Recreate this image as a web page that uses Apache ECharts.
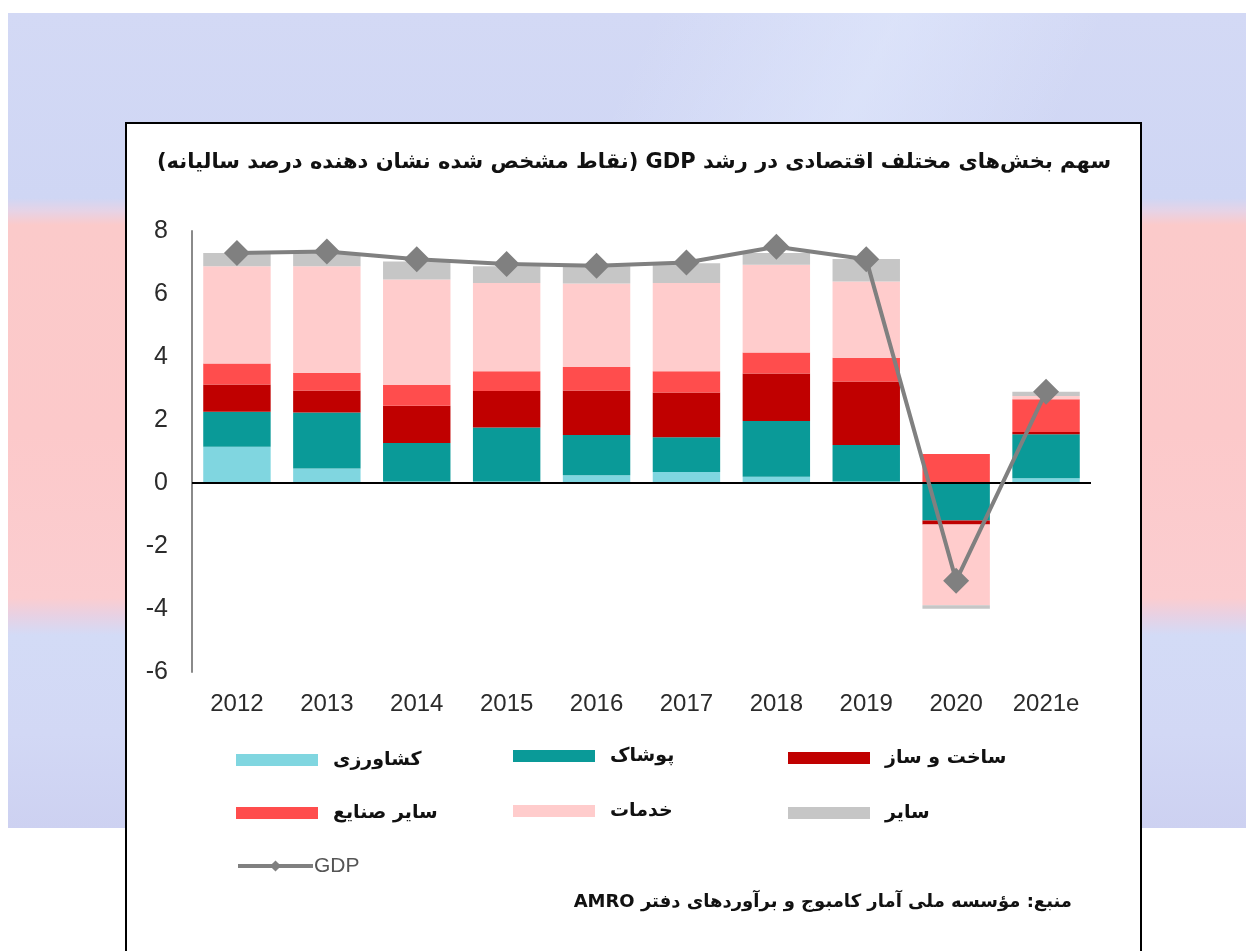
<!DOCTYPE html>
<html>
<head>
<meta charset="utf-8">
<title>سهم بخش‌ها در رشد GDP</title>
<script src="https://cdn.jsdelivr.net/npm/echarts@6/dist/echarts.min.js"></script>
<style>
  html, body {
    margin: 0;
    padding: 0;
    width: 1246px;
    height: 951px;
    background: #fff;
    overflow: hidden;
    position: relative;
  }
  /* faded flag photo behind the card */
  .flag {
    position: absolute;
    left: 8px;
    top: 13px;
    width: 1238px;
    height: 815px;
    background:
      linear-gradient(115deg, rgba(255,255,255,0) 40%, rgba(230,238,255,0.45) 55%, rgba(255,255,255,0) 68%),
      linear-gradient(to bottom,
        #d3d9f5 0px, #cfd6f4 185px, #e6d3e6 198px, #fbcaca 212px,
        #fcc9ca 420px, #fbcdd0 585px, #e7d1e4 603px, #d3dbf6 622px,
        #d2d8f5 720px, #cdd1f1 815px);
  }
  .card {
    position: absolute;
    left: 125px;
    top: 122px;
    width: 1017px;
    height: 840px;
    box-sizing: border-box;
    background: #fff;
    border: 2px solid #000;
  }
  #chart {
    position: absolute;
    left: 0;
    top: 0;
    width: 1246px;
    height: 951px;
  }
</style>
</head>
<body>
<div class="flag"></div>
<div class="card"></div>
<div id="chart"></div>
<script>
// سال‌ها
const years = ['2012', '2013', '2014', '2015', '2016', '2017', '2018', '2019', '2020', '2021e'];

// سهم هر بخش (واحد درصد)
const agriculture   = [1.15, 0.46, 0.05, 0.05, 0.25, 0.35, 0.20, 0.05, 0, 0.15];
const garment       = [1.11, 1.78, 1.22, 1.71, 1.27, 1.10, 1.77, 1.16, -1.19, 1.40];
const construction  = [0.87, 0.70, 1.18, 1.16, 1.42, 1.42, 1.51, 2.01, -0.13, 0.07];
const otherIndustry = [0.66, 0.56, 0.66, 0.63, 0.74, 0.68, 0.66, 0.76, 0.92, 1.04];
const services      = [3.09, 3.38, 3.35, 2.80, 2.65, 2.80, 2.79, 2.42, -2.56, 0.10];
const other         = [0.42, 0.42, 0.57, 0.53, 0.55, 0.63, 0.37, 0.71, -0.11, 0.14];
const gdp           = [7.3, 7.35, 7.1, 6.95, 6.9, 7.0, 7.5, 7.1, -3.1, 2.9];

const yTicks = { min: -6, max: 8, interval: 2 };

const titleText = 'سهم بخش‌های مختلف اقتصادی در رشد GDP (نقاط مشخص شده نشان دهنده درصد سالیانه)';
const sourceText = 'منبع: مؤسسه ملی آمار کامبوج و برآوردهای دفتر AMRO';

const NAMES = {
  agri: 'کشاورزی',
  garment: 'پوشاک',
  constr: 'ساخت و ساز',
  othInd: 'سایر صنایع',
  services: 'خدمات',
  other: 'سایر'
};

const COLORS = {
  agri: '#80d6e0',
  garment: '#0a9a98',
  constr: '#c00000',
  othInd: '#ff4d4d',
  services: '#ffcccc',
  other: '#c6c6c6',
  gdp: '#808080'
};

// embed rtl run inside the ltr canvas
const rtl = (s) => '\u202B' + s + '\u202C';

const legendText = {
  fontFamily: 'DejaVu Sans',
  fontWeight: 'bold',
  fontSize: 19,
  lineHeight: 24,
  color: '#111',
  padding: [0, 0, 0, 10]
};

function barLegend(name, left, top) {
  return {
    data: [name],
    left: left,
    top: top,
    padding: 0,
    icon: 'rect',
    itemWidth: 82,
    itemHeight: 12,
    selectedMode: false,
    textStyle: legendText
  };
}

function barSeries(key, data, extra) {
  return Object.assign({
    name: NAMES[key],
    type: 'bar',
    stack: 'total',
    barWidth: '75%',
    data: data,
    itemStyle: { color: COLORS[key] },
    emphasis: { disabled: true }
  }, extra || {});
}

const chart = echarts.init(document.getElementById('chart'), null, { renderer: 'canvas' });

const option = {
  backgroundColor: 'transparent',
  animation: false,
  grid: { left: 192, top: 231, width: 899, height: 441 },
  legend: [
    barLegend(NAMES.agri, 236, 748),
    barLegend(NAMES.garment, 513, 744),
    barLegend(NAMES.constr, 788, 746),
    barLegend(NAMES.othInd, 236, 801),
    barLegend(NAMES.services, 513, 799),
    barLegend(NAMES.other, 788, 801),
    {
      data: ['GDP'],
      left: 236,
      top: 854,
      padding: 0,
      itemWidth: 75,
      itemHeight: 14,
      selectedMode: false,
      lineStyle: { width: 4, color: COLORS.gdp },
      textStyle: { fontFamily: 'Liberation Sans', fontSize: 21, lineHeight: 24, color: '#555', padding: [0, 0, 0, -4] }
    }
  ],
  xAxis: {
    type: 'category',
    data: years,
    axisLine: { show: false, onZero: false },
    axisTick: { show: false },
    axisLabel: {
      interval: 0,
      margin: 20,
      fontFamily: 'Liberation Sans',
      fontSize: 24,
      color: '#2b2b2b'
    }
  },
  yAxis: {
    type: 'value',
    min: yTicks.min,
    max: yTicks.max,
    interval: yTicks.interval,
    axisLine: { show: true, lineStyle: { color: '#8a8a8a', width: 2 } },
    axisTick: { show: false },
    splitLine: { show: false },
    axisLabel: {
      margin: 24,
      fontFamily: 'Liberation Sans',
      fontSize: 25,
      color: '#2b2b2b'
    }
  },
  series: [
    barSeries('agri', agriculture),
    barSeries('garment', garment),
    barSeries('constr', construction),
    barSeries('othInd', otherIndustry),
    barSeries('services', services),
    barSeries('other', other, {
      markLine: {
        silent: true,
        symbol: 'none',
        label: { show: false },
        lineStyle: { color: '#000', width: 2, type: 'solid' },
        data: [{ yAxis: 0 }]
      }
    }),
    {
      name: 'GDP',
      type: 'line',
      data: gdp,
      z: 5,
      symbol: 'diamond',
      symbolSize: 26,
      lineStyle: { color: COLORS.gdp, width: 4 },
      itemStyle: { color: COLORS.gdp },
      emphasis: { disabled: true }
    }
  ],
  graphic: [
    {
      type: 'text',
      x: 634,
      y: 163,
      style: {
        text: rtl(titleText),
        fill: '#111',
        font: 'bold 21px "DejaVu Sans"',
        textAlign: 'center',
        textVerticalAlign: 'middle'
      }
    },
    {
      type: 'text',
      x: 1072,
      y: 902,
      style: {
        text: rtl(sourceText),
        fill: '#111',
        font: 'bold 18px "DejaVu Sans"',
        textAlign: 'right',
        textVerticalAlign: 'middle'
      }
    }
  ]
};

chart.setOption(option);
</script>
</body>
</html>
